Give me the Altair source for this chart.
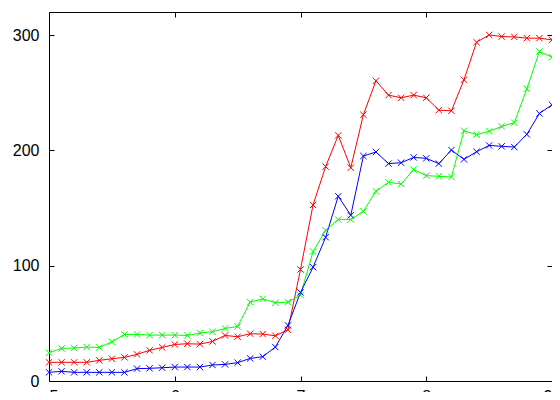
import altair as alt
import pandas as pd

xs = [5.0, 5.1, 5.2, 5.3, 5.4, 5.5, 5.6, 5.7, 5.8, 5.9,
      6.0, 6.1, 6.2, 6.3, 6.4, 6.5, 6.6, 6.7, 6.8, 6.9,
      7.0, 7.1, 7.2, 7.3, 7.4, 7.5, 7.6, 7.7, 7.8, 7.9,
      8.0, 8.1, 8.2, 8.3, 8.4, 8.5, 8.6, 8.7, 8.8, 8.9, 9.0]

red = [16.2, 16.2, 16.2, 16.2, 17.9, 19.3, 20.5, 23.1, 26.6, 29.1,
       31.7, 32.3, 32.0, 34.3, 39.5, 38.4, 41.0, 40.7, 39.2, 44.4,
       96.7, 152.7, 185.9, 213.0, 185.0, 230.9, 260.3, 247.9, 245.6, 247.9,
       245.6, 234.9, 234.3, 261.2, 293.8, 300.1, 298.7, 298.4, 297.3, 297.3, 295.8]

green = [24.5, 28.3, 28.6, 29.4, 29.1, 34.0, 40.4, 40.4, 39.8, 39.8,
         39.8, 39.5, 41.6, 42.7, 45.6, 47.3, 68.4, 71.3, 67.8, 68.4,
         74.5, 112.3, 130.7, 140.0, 140.0, 147.2, 164.5, 172.3, 170.8, 183.3,
         178.1, 177.5, 176.9, 217.0, 213.6, 216.5, 220.8, 224.0, 253.4, 285.7, 280.8]

blue = [7.5, 8.4, 7.5, 7.5, 7.5, 7.5, 7.5, 10.7, 11.0, 11.5,
        12.1, 12.1, 12.1, 13.9, 14.4, 15.9, 19.6, 21.1, 29.4, 48.2,
        76.8, 98.7, 124.7, 160.2, 143.7, 195.1, 198.6, 188.5, 189.3, 193.9,
        193.1, 188.5, 200.3, 192.2, 198.8, 204.3, 203.5, 202.9, 213.9, 232.0, 239.5]

series_names = ["1", "2", "3"]
series_colors = ["#ff0000", "#00ff00", "#0000ff"]
x_ticks = [5, 6, 7, 8, 9]
y_ticks = [0, 100, 200, 300]

rows = []
for name, vals in zip(series_names, [red, green, blue]):
    for x, v in zip(xs, vals):
        rows.append({"x": x, "v": v, "s": name})
df = pd.DataFrame(rows)

XSHAPE = "M-1,-1L1,1M-1,1L1,-1"
FONT = "Liberation Sans"

xscale = alt.Scale(domain=[5, 9], nice=False, zero=False)
yscale = alt.Scale(domain=[0, 320], nice=False)

lines = alt.Chart(df).mark_line(
    strokeWidth=1,
    point=alt.OverlayMarkDef(shape=XSHAPE, filled=False, size=40, strokeWidth=1),
).encode(
    x=alt.X("x:Q", scale=xscale,
            axis=alt.Axis(orient="bottom", values=x_ticks, tickSize=0, domain=False,
                          grid=False, title=None, labelPadding=7, labelFont=FONT,
                          labelFontSize=16, labelColor="black", format="d")),
    y=alt.Y("v:Q", scale=yscale,
            axis=alt.Axis(orient="left", values=y_ticks, tickSize=0, domain=False,
                          grid=False, title=None, labelPadding=10, labelFont=FONT,
                          labelFontSize=16, labelColor="black", format="d")),
    color=alt.Color("s:N", scale=alt.Scale(domain=series_names, range=series_colors),
                    legend=None),
    order=alt.Order("x:Q"),
)


def tick_axis(orient, values):
    return alt.Axis(orient=orient, offset=-5, tickSize=5, tickColor="black",
                    tickWidth=1, labels=False, domain=False, grid=False, title=None,
                    values=values)


ticks1 = alt.Chart(df).mark_point(opacity=0).encode(
    x=alt.X("x:Q", scale=xscale, axis=tick_axis("bottom", x_ticks)),
    y=alt.Y("v:Q", scale=yscale, axis=tick_axis("left", y_ticks)),
)
ticks2 = alt.Chart(df).mark_point(opacity=0).encode(
    x=alt.X("x:Q", scale=xscale, axis=tick_axis("top", x_ticks)),
    y=alt.Y("v:Q", scale=yscale, axis=tick_axis("right", y_ticks)),
)

chart = alt.layer(lines, ticks1, ticks2).resolve_axis(
    x="independent", y="independent"
).properties(
    width=503, height=369,
    autosize=alt.AutoSizeParams(type="none"),
    padding={"left": 41, "top": 4, "right": 0, "bottom": 11},
).configure_view(stroke="black", strokeWidth=1)

chart.save("out.html", embed_options={"renderer": "svg", "actions": False})
